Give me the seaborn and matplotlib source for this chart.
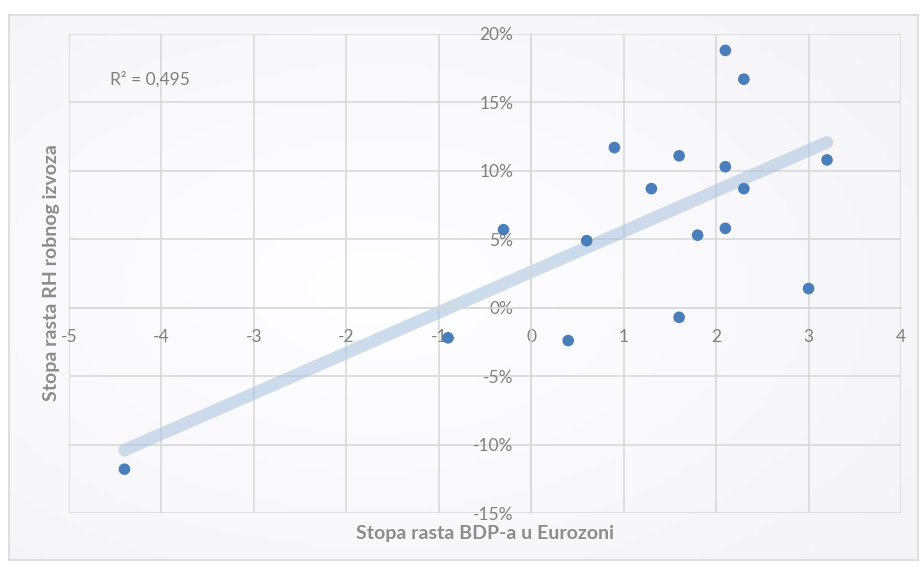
import numpy as np
import pandas as pd
import matplotlib
matplotlib.use("Agg")
import matplotlib.pyplot as plt
from matplotlib.ticker import FuncFormatter
import seaborn as sns

# ---- data ----
gdp_growth = [-4.4, -0.9, -0.3, 0.4, 0.6, 0.9, 1.3, 1.6, 1.6, 1.8, 2.1, 2.1, 2.1, 2.3, 2.3, 3.0, 3.2]
export_growth = [-11.8, -2.2, 5.7, -2.4, 4.9, 11.7, 8.7, 11.1, -0.7, 5.3, 18.8, 10.3, 5.8, 8.7, 16.7, 1.4, 10.8]
x_ticks = [-5, -4, -3, -2, -1, 0, 1, 2, 3, 4]
y_ticks = [-15, -10, -5, 0, 5, 10, 15, 20]
r2_label = "R² = 0,495"
x_label = "Stopa rasta BDP-a u Eurozoni"
y_label = "Stopa rasta RH robnog izvoza"

df = pd.DataFrame({"gdp": gdp_growth, "exp": export_growth})

sns.set_theme(style="white")
plt.rcParams["font.family"] = ["Lato", "DejaVu Sans"]
plt.rcParams["axes.unicode_minus"] = False

W, H = 923, 569
fig = plt.figure(figsize=(W / 100, H / 100), dpi=100)
fig.patch.set_facecolor("white")

# background panel with subtle gradient
bg = fig.add_axes([9 / W, 1 - 560 / H, (918 - 9) / W, (560 - 15) / H])
gx = np.linspace(0, 1, 200)
gy = np.linspace(0, 1, 120)
GX, GY = np.meshgrid(gx, gy)
dist = np.sqrt((GX - 0.4) ** 2 + (GY - 0.5) ** 2)
shade = 1 - 0.04 * np.clip(dist / 0.7, 0, 1)
img = np.dstack([shade, shade, np.clip(shade + 0.008, 0, 1)])
bg.imshow(img, aspect="auto", extent=[0, 1, 0, 1], origin="lower")
bg.set_xticks([]); bg.set_yticks([])
for s in bg.spines.values():
    s.set_color("#d9d9d9"); s.set_linewidth(1.2)
bg.set_zorder(0)

ax = fig.add_axes([69 / W, 1 - 513 / H, (901 - 69) / W, (513 - 34) / H])
ax.set_zorder(1)
ax.patch.set_alpha(0)

grid_c = "#d9d9d9"
sns.regplot(data=df, x="gdp", y="exp", ax=ax, scatter=False, ci=None, truncate=True,
            line_kws=dict(color="#a7c1df", lw=9, alpha=0.55, solid_capstyle="round", zorder=2))
sns.scatterplot(data=df, x="gdp", y="exp", ax=ax, color="#4a7ebb", s=70,
                edgecolor="none", zorder=3, legend=False)

ax.set_xlim(-5, 4)
ax.set_ylim(-15, 20)
ax.set_xticks(x_ticks)
ax.set_yticks(y_ticks)
ax.yaxis.set_major_formatter(FuncFormatter(lambda v, p: f"{v:.0f}%"))
ax.grid(True, color=grid_c, lw=1.2)
ax.set_axisbelow(True)

ax.spines["left"].set_position(("data", 0))
ax.spines["bottom"].set_position(("data", 0))
for side in ["left", "bottom"]:
    ax.spines[side].set_color(grid_c)
    ax.spines[side].set_linewidth(1.2)
for side in ["top", "right"]:
    ax.spines[side].set_visible(False)

ax.tick_params(axis="x", length=0, pad=15, labelsize=12.5, labelcolor="#808080")
ax.tick_params(axis="y", length=0, pad=13, labelsize=12.5, labelcolor="#808080")
ax.set_xlabel("")
ax.set_ylabel("")

ax.text(-4.56, 16.7, r2_label, fontsize=12.5, color="#808080", ha="left", va="center")

fig.text(485 / W, 1 - 533 / H, x_label, ha="center", va="center",
         fontsize=14, fontweight="bold", color="#8c8c8c")
fig.text(52 / W, 1 - 273 / H, y_label, ha="center", va="center", rotation=90,
         fontsize=14, fontweight="bold", color="#8c8c8c")

fig.savefig("out.png", dpi=100)
